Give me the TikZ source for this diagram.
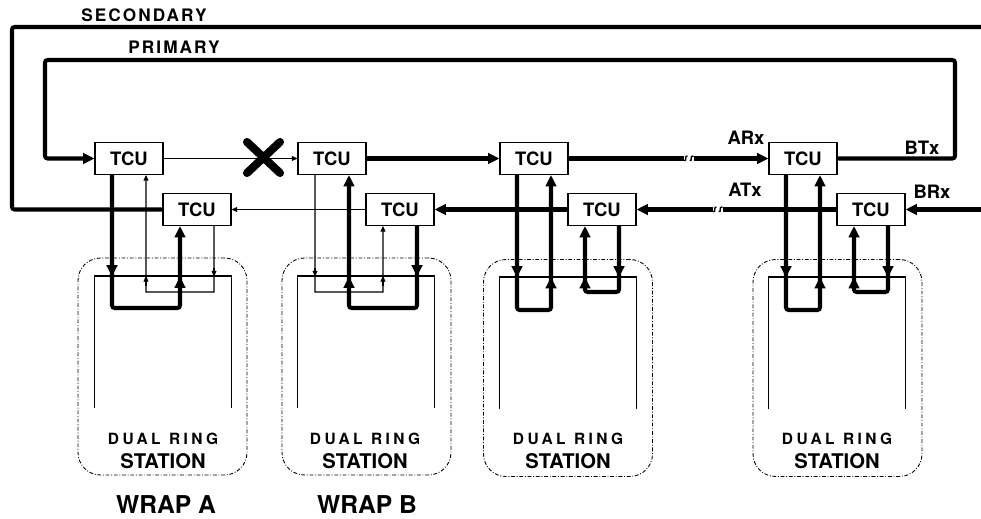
\documentclass[tikz,border=0pt]{standalone}
\usepackage{fontspec}
\setmainfont{TeX Gyre Heros}
\newfontfamily\spfont[LetterSpace=12]{TeX Gyre Heros}
\newfontfamily\widefont[LetterSpace=22]{TeX Gyre Heros}
\usetikzlibrary{arrows.meta,calc}
\begin{document}
\begin{tikzpicture}[x=0.02cm,y=-0.02cm,
  tcu/.style={draw,line width=0.6pt,minimum width=1.36cm,minimum height=0.64cm,inner sep=0pt,fill=white,font=\fontsize{10.5}{12}\selectfont\bfseries},
  thickw/.style={line width=2.3pt,rounded corners=1.5pt},
  thinw/.style={line width=0.6pt},
  ta/.style={-{Triangle[length=6.5pt,width=6pt]}},
  sa/.style={-{Triangle[length=3.2pt,width=2.8pt]}},
  stationbox/.style={draw,line width=0.5pt,dash pattern=on 2.2pt off 1pt on 0.5pt off 1pt,rounded corners=0.45cm,minimum width=3.38cm,minimum height=4.34cm,inner sep=0pt},
  innerw/.style={line width=0.6pt},
  brk/.style={line width=0.8pt},
  lbl/.style={font=\fontsize{10.5}{12}\selectfont\bfseries,inner sep=0pt},
  ringlbl/.style={font=\spfont\fontsize{9.8}{12}\selectfont\bfseries,inner sep=0pt},
  dual/.style={font=\widefont\fontsize{8.8}{10}\selectfont\bfseries,inner sep=0pt},
  stat/.style={font=\fontsize{11.5}{13}\selectfont\bfseries,inner sep=0pt},
  wrap/.style={font=\fontsize{14}{16}\selectfont\bfseries,inner sep=0pt}
]
\path[use as bounding box,fill=white] (0,0) rectangle (981,518);

% stations
\node[stationbox] (s1) at (162.5,366.5) {};
\node[stationbox] (s2) at (366.5,366.5) {};
\node[stationbox] (s3) at (568,368) {};
\node[stationbox] (s4) at (837.5,368) {};

% TCUs
\node[tcu] (t1) at (129,158.5) {TCU};
\node[tcu] (t2) at (197,209.5) {TCU};
\node[tcu] (t3) at (332,158.5) {TCU};
\node[tcu] (t4) at (400,209.5) {TCU};
\node[tcu] (t5) at (534,158.5) {TCU};
\node[tcu] (t6) at (602,209.5) {TCU};
\node[tcu] (t7) at (803,158.5) {TCU};
\node[tcu] (t8) at (871,209.5) {TCU};

% inner station frames
\draw[innerw] (t1.south west |- 0,408) |- (t2.south east |- 0,276) -- (t2.south east |- 0,408);
\draw[innerw] (t3.south west |- 0,408) |- (t4.south east |- 0,276) -- (t4.south east |- 0,408);
\draw[innerw] (t5.south west |- 0,409) |- (t6.south east |- 0,277) -- (t6.south east |- 0,409);
\draw[innerw] (t7.south west |- 0,409) |- (t8.south east |- 0,277) -- (t8.south east |- 0,409);

% station 1 (wrap A)
\draw[thickw,ta] ([xshift=-0.34cm]t1.south) |- (180,308) -- ([xshift=-0.34cm]t2.south);
\draw[thinw,sa] ([xshift=0.34cm]t2.south) |- (146,292) -- ([xshift=0.34cm]t1.south);
\draw[thickw,ta] (112,262) -- (112,276.5);
\draw[thickw,ta] (180,292) -- (180,276.5);
\draw[thinw,sa] (214,268) -- (214,276.5);
\draw[thinw,sa] (146,286) -- (146,276);

% station 2 (wrap B)
\draw[thinw,sa] ([xshift=-0.34cm]t3.south) |- (383,292) -- ([xshift=-0.34cm]t4.south);
\draw[thickw,ta] ([xshift=0.34cm]t4.south) |- (349,308) -- ([xshift=0.34cm]t3.south);
\draw[thinw,sa] (315,268) -- (315,276.5);
\draw[thickw,ta] (349,292) -- (349,276.5);
\draw[thinw,sa] (383,286) -- (383,276);
\draw[thickw,ta] (417,262) -- (417,276.5);

% station 3
\draw[thickw,ta] ([xshift=-0.34cm]t5.south) |- (551,310) -- ([xshift=0.34cm]t5.south);
\draw[thickw,ta] ([xshift=0.34cm]t6.south) |- (585,292) -- ([xshift=-0.34cm]t6.south);
\draw[thickw,ta] (517,263) -- (517,277.5);
\draw[thickw,ta] (551,294) -- (551,277);
\draw[thickw,ta] (619,263) -- (619,277.5);
\draw[thickw,ta] (585,291) -- (585,277);

% station 4
\draw[thickw,ta] ([xshift=-0.34cm]t7.south) |- (820,310) -- ([xshift=0.34cm]t7.south);
\draw[thickw,ta] ([xshift=0.34cm]t8.south) |- (854,292) -- ([xshift=-0.34cm]t8.south);
\draw[thickw,ta] (786,263) -- (786,277.5);
\draw[thickw,ta] (820,294) -- (820,277);
\draw[thickw,ta] (888,263) -- (888,277.5);
\draw[thickw,ta] (854,291) -- (854,277);

% primary ring (top row)
\draw[thinw,sa] (t1.east) -- (t3.west);
\draw[thickw,ta] (t3.east) -- (t5.west);
\coordinate (b1) at (689,158.5);
\draw[thickw] (t5.east) -- ([xshift=-0.1cm]b1);
\draw[thickw,ta] ([xshift=0.1cm]b1) -- (t7.west);
\draw[brk] ([shift={(-5,2)}]b1) -- ([shift={(-3.5,2)}]b1) -- ([shift={(-3,-2)}]b1) -- ([shift={(-1.5,-2.5)}]b1);
\draw[brk] ([shift={(0.5,2)}]b1) -- ([shift={(2,2)}]b1) -- ([shift={(2.5,-2)}]b1) -- ([shift={(4.5,-2.5)}]b1);
\draw[thickw,ta] (t7.east) -| (955,60) -| (45,158.5) -- (t1.west);

% secondary ring (lower row)
\coordinate (brx) at (981,209.5);
\coordinate (secr) at (981,27);
\draw[thickw,ta] (brx) -- (t8.east);
\coordinate (b2) at (718,209.5);
\draw[thickw] (t8.west) -- ([xshift=0.1cm]b2);
\draw[thickw,ta] ([xshift=-0.1cm]b2) -- (t6.east);
\draw[brk] ([shift={(-5,2)}]b2) -- ([shift={(-3.5,2)}]b2) -- ([shift={(-3,-2)}]b2) -- ([shift={(-1.5,-2.5)}]b2);
\draw[brk] ([shift={(0.5,2)}]b2) -- ([shift={(2,2)}]b2) -- ([shift={(2.5,-2)}]b2) -- ([shift={(4.5,-2.5)}]b2);
\draw[thickw,ta] (t6.west) -- (t4.east);
\draw[thinw,sa] (t4.west) -- (t2.east);
\draw[thickw] (t2.west) -| (12,27) -- (secr);

% break X
\draw[line width=4.6pt,line cap=round] (247,142) -- (280,173);
\draw[line width=4.6pt,line cap=round] (247,173) -- (280,142);

% labels
\node[ringlbl] (lsec) at (144,15) {SECONDARY};
\node[ringlbl] (lpri) at (174,47) {PRIMARY};
\node[lbl] (larx) at (746,138) {ARx};
\node[lbl] (latx) at (745,190) {ATx};
\node[lbl] (lbtx) at (922,148) {BTx};
\node[lbl] (lbrx) at (932,192) {BRx};

\foreach \s/\x in {s1/163,s2/365,s3/568,s4/837}{
  \node[dual] (\s d) at (\x,438.5) {DUAL\hspace{0.55em}RING};
  \node[stat] (\s t) at (\x,461) {STATION};
}
\node[wrap] (wa) at (166,505) {WRAP A};
\node[wrap] (wb) at (367,505) {WRAP B};
\end{tikzpicture}
\end{document}
